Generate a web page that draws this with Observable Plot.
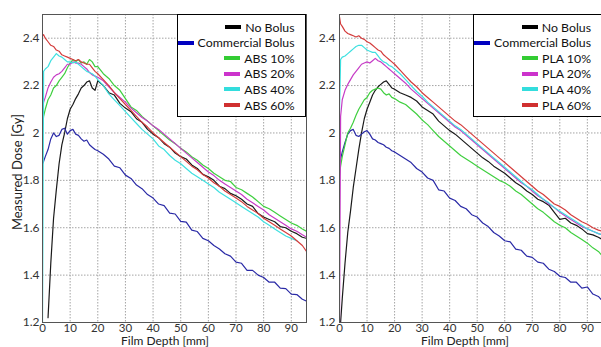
<!DOCTYPE html>
<html>
<head>
<meta charset="utf-8">
<script src="https://cdn.jsdelivr.net/npm/d3@7"></script>
<script src="https://cdn.jsdelivr.net/npm/@observablehq/plot@0.6"></script>
<style>
  html, body { margin: 0; padding: 0; background: #fff; }
  #wrap { position: relative; width: 601px; height: 347px; overflow: hidden; background: #fff; font-family: Lato, "Open Sans", sans-serif; }
  .panel { position: absolute; top: 0; }
  .legend { position: absolute; top: 14px; height: 103px; background: #fff; border: 1px solid #000; box-sizing: border-box; }
  .row { position: absolute; right: 10px; height: 14px; display: flex; align-items: center; font-size: 12.3px; color: #111; white-space: nowrap; }
  .sw { width: 16px; height: 4px; margin-right: 4px; }
  .xlab { position: absolute; top: 335px; font-size: 12px; line-height: 1; color: #222; white-space: nowrap; transform: translateX(-50%); }
  .ylab { position: absolute; left: 17px; top: 172px; font-size: 13px; line-height: 1; color: #222; white-space: nowrap; transform: translate(-50%, -50%) rotate(-90deg); }
</style>
</head>
<body>
<div id="wrap">
  <div id="left" class="panel" style="left:0"></div>
  <div id="right" class="panel" style="left:300px"></div>
</div>
<script>
// ---- data ----
const depth = [0, 0.4, 1, 2, 3, 4, 5, 6, 7, 8, 9, 10, 11, 12, 13, 14, 15, 16, 17, 18, 19, 20,
  22, 24, 26, 28, 30, 32, 34, 36, 38, 40, 42, 44, 46, 48, 50, 52, 54, 56, 58, 60, 62, 64, 66, 68, 70, 72, 74, 76, 78, 80, 82, 84, 86, 88, 90, 92, 94, 95.5];

const seriesNames = ["No Bolus", "Commercial Bolus", "10%", "20%", "40%", "60%"];
const seriesColors = ["#1a1a1a", "#2a2aa6", "#3fcf3f", "#c63cc6", "#3ee0e0", "#d43c3c"];
const legendColors = ["#000000", "#0000c0", "#33cc33", "#cc33cc", "#33dddd", "#d03030"];
const leftMaterial = "ABS";
const rightMaterial = "PLA";

const xTicks = [0, 10, 20, 30, 40, 50, 60, 70, 80, 90];
const yTicks = [1.2, 1.4, 1.6, 1.8, 2.0, 2.2, 2.4];

// Left panel (ABS)
const absNoBolus = [null, null, null, 1.22, 1.45, 1.64, 1.76, 1.87, 1.95, 2.00, 2.06, 2.10, 2.12, 2.145, 2.165, 2.19, 2.20, 2.215, 2.22, 2.19, 2.18, 2.22,
  2.20, 2.17, 2.16, 2.125, 2.105, 2.09, 2.06, 2.045, 2.015, 1.995, 1.98, 1.955, 1.94, 1.915, 1.90, 1.89, 1.865, 1.85, 1.825, 1.815, 1.80, 1.775, 1.765, 1.745, 1.735, 1.72, 1.70, 1.69, 1.66, 1.645, 1.635, 1.625, 1.605, 1.60, 1.585, 1.575, 1.56, 1.555];
const absCommercial = [1.87, 1.88, 1.90, 1.93, 1.975, 2.00, 1.985, 1.99, 2.015, 2.02, 1.995, 2.01, 2.015, 1.995, 1.99, 1.975, 1.965, 1.97, 1.95, 1.94, 1.93, 1.925,
  1.91, 1.89, 1.86, 1.853, 1.822, 1.808, 1.78, 1.765, 1.74, 1.725, 1.70, 1.693, 1.662, 1.658, 1.627, 1.624, 1.59, 1.584, 1.555, 1.545, 1.525, 1.51, 1.49, 1.48, 1.455, 1.45, 1.42, 1.42, 1.40, 1.39, 1.37, 1.37, 1.345, 1.343, 1.32, 1.318, 1.298, 1.29];
const abs10 = [2.03, 2.07, 2.10, 2.14, 2.16, 2.19, 2.20, 2.22, 2.235, 2.25, 2.275, 2.295, 2.31, 2.30, 2.31, 2.295, 2.30, 2.29, 2.31, 2.30, 2.28, 2.28,
  2.25, 2.23, 2.20, 2.18, 2.145, 2.11, 2.095, 2.07, 2.05, 2.03, 2.01, 1.99, 1.97, 1.955, 1.935, 1.92, 1.90, 1.885, 1.865, 1.85, 1.83, 1.815, 1.80, 1.795, 1.77, 1.76, 1.745, 1.73, 1.71, 1.69, 1.68, 1.665, 1.65, 1.635, 1.62, 1.61, 1.595, 1.585];
const abs20 = [2.10, 2.13, 2.15, 2.19, 2.215, 2.235, 2.245, 2.25, 2.26, 2.275, 2.29, 2.29, 2.30, 2.295, 2.295, 2.29, 2.28, 2.27, 2.255, 2.245, 2.24, 2.235,
  2.22, 2.195, 2.17, 2.15, 2.13, 2.105, 2.085, 2.065, 2.05, 2.03, 2.015, 1.995, 1.975, 1.955, 1.935, 1.915, 1.895, 1.875, 1.855, 1.835, 1.82, 1.80, 1.785, 1.77, 1.755, 1.74, 1.72, 1.705, 1.69, 1.675, 1.655, 1.64, 1.625, 1.61, 1.595, 1.585, 1.57, 1.56];
const abs40 = [1.20, 2.26, 2.27, 2.28, 2.305, 2.32, 2.335, 2.325, 2.32, 2.31, 2.30, 2.30, 2.295, 2.30, 2.29, 2.28, 2.27, 2.26, 2.255, 2.25, 2.24, 2.225,
  2.20, 2.165, 2.14, 2.115, 2.09, 2.065, 2.04, 2.015, 1.995, 1.975, 1.945, 1.93, 1.905, 1.885, 1.87, 1.85, 1.83, 1.815, 1.80, 1.785, 1.77, 1.75, 1.735, 1.72, 1.705, 1.69, 1.675, 1.66, 1.645, 1.625, 1.61, 1.595, 1.58, 1.565, 1.555, 1.545, null, null];
const abs60 = [2.41, 2.415, 2.40, 2.385, 2.37, 2.365, 2.35, 2.345, 2.33, 2.325, 2.32, 2.315, 2.31, 2.305, 2.31, 2.30, 2.295, 2.29, 2.29, 2.275, 2.26, 2.25,
  2.225, 2.20, 2.17, 2.145, 2.12, 2.095, 2.07, 2.045, 2.025, 2.00, 1.98, 1.96, 1.94, 1.92, 1.90, 1.88, 1.86, 1.845, 1.825, 1.81, 1.79, 1.775, 1.755, 1.74, 1.725, 1.71, 1.69, 1.675, 1.66, 1.64, 1.625, 1.61, 1.595, 1.58, 1.565, 1.545, 1.525, 1.50];

// Right panel (PLA)
const plaNoBolus = [null, 1.20, 1.30, 1.45, 1.58, 1.67, 1.77, 1.85, 1.93, 2.00, 2.06, 2.10, 2.13, 2.16, 2.18, 2.195, 2.205, 2.215, 2.22, 2.205, 2.19, 2.185,
  2.17, 2.16, 2.15, 2.135, 2.11, 2.095, 2.08, 2.05, 2.03, 2.01, 1.995, 1.975, 1.955, 1.935, 1.915, 1.895, 1.88, 1.86, 1.845, 1.83, 1.81, 1.79, 1.775, 1.755, 1.74, 1.72, 1.71, 1.695, 1.665, 1.635, 1.64, 1.62, 1.61, 1.595, 1.575, 1.57, 1.56, 1.55];
const plaCommercial = [1.87, 1.89, 1.92, 1.96, 1.995, 2.01, 2.015, 1.99, 1.985, 1.995, 2.005, 2.01, 1.995, 1.975, 1.97, 1.96, 1.955, 1.95, 1.94, 1.935, 1.925, 1.92,
  1.905, 1.89, 1.875, 1.85, 1.835, 1.81, 1.80, 1.76, 1.755, 1.725, 1.715, 1.69, 1.68, 1.655, 1.645, 1.62, 1.605, 1.58, 1.565, 1.545, 1.54, 1.51, 1.505, 1.48, 1.475, 1.455, 1.45, 1.425, 1.415, 1.395, 1.39, 1.37, 1.37, 1.345, 1.35, 1.32, 1.31, 1.29];
const pla10 = [1.82, 1.86, 1.90, 1.95, 2.00, 2.02, 2.045, 2.075, 2.10, 2.12, 2.14, 2.15, 2.17, 2.18, 2.185, 2.19, 2.185, 2.17, 2.16, 2.165, 2.15, 2.145,
  2.13, 2.12, 2.10, 2.08, 2.055, 2.035, 2.01, 1.985, 1.965, 1.945, 1.925, 1.905, 1.89, 1.875, 1.86, 1.845, 1.83, 1.815, 1.80, 1.79, 1.775, 1.755, 1.74, 1.72, 1.70, 1.68, 1.665, 1.645, 1.625, 1.61, 1.60, 1.58, 1.565, 1.55, 1.535, 1.515, 1.50, 1.48];
const pla20 = [1.20, 2.07, 2.14, 2.18, 2.205, 2.225, 2.245, 2.26, 2.275, 2.29, 2.295, 2.30, 2.295, 2.305, 2.315, 2.305, 2.30, 2.29, 2.28, 2.27, 2.26, 2.25,
  2.23, 2.21, 2.185, 2.165, 2.145, 2.125, 2.105, 2.085, 2.065, 2.045, 2.025, 2.01, 1.99, 1.97, 1.95, 1.93, 1.91, 1.89, 1.87, 1.85, 1.83, 1.81, 1.79, 1.775, 1.755, 1.735, 1.72, 1.70, 1.685, 1.665, 1.65, 1.635, 1.62, 1.605, 1.595, 1.585, 1.575, 1.57];
const pla40 = [2.09, 2.31, 2.32, 2.325, 2.335, 2.345, 2.355, 2.365, 2.37, 2.37, 2.36, 2.35, 2.345, 2.34, 2.34, 2.325, 2.31, 2.30, 2.295, 2.285, 2.28, 2.27,
  2.25, 2.225, 2.20, 2.175, 2.155, 2.13, 2.11, 2.09, 2.07, 2.05, 2.03, 2.015, 1.995, 1.975, 1.955, 1.935, 1.915, 1.895, 1.875, 1.855, 1.835, 1.815, 1.795, 1.775, 1.76, 1.74, 1.72, 1.705, 1.685, 1.67, 1.655, 1.64, 1.625, 1.61, 1.595, 1.585, 1.575, 1.57];
const pla60 = [2.49, 2.46, 2.45, 2.43, 2.42, 2.415, 2.41, 2.405, 2.41, 2.40, 2.395, 2.385, 2.38, 2.37, 2.36, 2.35, 2.345, 2.33, 2.32, 2.31, 2.30, 2.29,
  2.265, 2.24, 2.215, 2.195, 2.17, 2.15, 2.13, 2.11, 2.09, 2.07, 2.05, 2.035, 2.015, 1.995, 1.975, 1.955, 1.935, 1.915, 1.895, 1.875, 1.855, 1.835, 1.815, 1.795, 1.775, 1.755, 1.74, 1.72, 1.70, 1.69, 1.675, 1.655, 1.64, 1.625, 1.615, 1.60, 1.59, 1.585];

const leftSeries = [absNoBolus, absCommercial, abs10, abs20, abs40, abs60];
const rightSeries = [plaNoBolus, plaCommercial, pla10, pla20, pla40, pla60];

// ---- drawing ----
function rows(values) {
  const n = Math.min(depth.length, values.length);
  const out = [];
  for (let i = 0; i < n; i++) if (values[i] != null) out.push({depth: depth[i], dose: values[i]});
  return out;
}

function panel(seriesList, opts) {
  const marks = [
    Plot.ruleX(xTicks, {x: d => d, stroke: "#a4a4a4", strokeOpacity: 1, strokeWidth: 1, strokeDasharray: "1.5,1.5"}),
    Plot.ruleY(yTicks, {y: d => d, stroke: "#a4a4a4", strokeOpacity: 1, strokeWidth: 1, strokeDasharray: "1.5,1.5"}),
    Plot.axisX(xTicks, {tickSize: 0, tickPadding: 1, fontSize: 11.5, fill: "#333", label: null}),
    Plot.axisY(yTicks, {tickSize: 0, tickPadding: opts.yPad, fontSize: 12, fill: "#333", label: null,
      tickFormat: d => String(+d.toFixed(1))})
  ];
  seriesList.forEach((vals, i) => {
    marks.push(Plot.line(rows(vals), {x: "depth", y: "dose", stroke: seriesColors[i], strokeWidth: 1.2, clip: true}));
  });
  marks.push(Plot.frame({stroke: "#555", strokeWidth: 1}));
  return Plot.plot({
    width: opts.width, height: 347,
    marginLeft: opts.ml, marginRight: opts.mr, marginTop: 14, marginBottom: 25,
    x: {domain: [0, 95.5]},
    y: {domain: [1.2, 2.5]},
    style: {background: "transparent", fontFamily: "Lato, 'Open Sans', sans-serif", maxWidth: "none", overflow: "visible"},
    marks
  });
}

document.getElementById("left").appendChild(panel(leftSeries, {width: 310, ml: 42, mr: 4, yPad: 3}));
document.getElementById("right").appendChild(panel(rightSeries, {width: 303, ml: 39, mr: 1, yPad: 4}));

// legends and labels
const wrap = document.getElementById("wrap");
function legend(left, material) {
  const box = document.createElement("div");
  box.className = "legend";
  box.style.left = left + "px";
  box.style.width = "129px";
  seriesNames.forEach((name, i) => {
    const r = document.createElement("div");
    r.className = "row";
    r.style.top = (5 + i * 15.6) + "px";
    const sw = document.createElement("span");
    sw.className = "sw";
    sw.style.background = legendColors[i];
    const t = document.createElement("span");
    t.textContent = i < 2 ? name : material + " " + name;
    r.appendChild(sw); r.appendChild(t);
    box.appendChild(r);
  });
  wrap.appendChild(box);
}
legend(176.5, leftMaterial);
legend(473, rightMaterial);

function label(cls, text, x) {
  const d = document.createElement("div");
  d.className = cls;
  d.textContent = text;
  if (x != null) d.style.left = x + "px";
  wrap.appendChild(d);
}
label("xlab", "Film Depth [mm]", 165);
label("xlab", "Film Depth [mm]", 465);
label("ylab", "Measured Dose [Gy]", null);
</script>
</body>
</html>
